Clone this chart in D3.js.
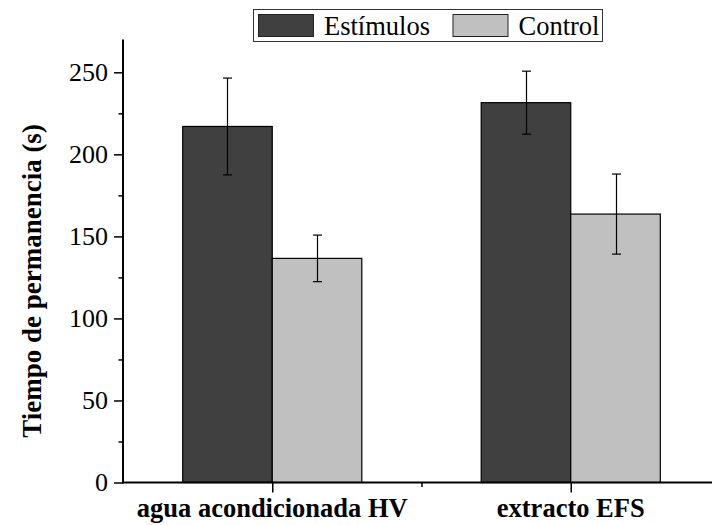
<!DOCTYPE html>
<html>
<head>
<meta charset="utf-8">
<script src="https://cdn.jsdelivr.net/npm/d3@7"></script>
<style>
  html, body { margin: 0; padding: 0; background: #fff; }
  svg { display: block; }
</style>
</head>
<body>
<svg id="chart" width="712" height="525" font-family="Liberation Serif"></svg>
<script>
// Categories and series
const categories = ["agua acondicionada HV", "extracto EFS"];
const seriesNames = ["Estímulos", "Control"];
const estimulos = [217, 231.5];
const estimulosErr = [29.5, 19.2];
const control = [136.6, 163.6];
const controlErr = [14.2, 24.4];
const yTicks = [0, 50, 100, 150, 200, 250];
const yMinorTicks = [25, 75, 125, 175, 225];
const yLabel = "Tiempo de permanencia (s)";

const FONT = "Liberation Serif";

const series = [
  { name: seriesNames[0], values: estimulos, errors: estimulosErr, fill: "#404040", offset: -1 },
  { name: seriesNames[1], values: control, errors: controlErr, fill: "#c0c0c0", offset: 0 }
];

const svg = d3.select("#chart");

const x = d3.scaleLinear().domain([0.5, 2.5]).range([123, 720]);
const y = d3.scaleLinear().domain([0, 270]).range([482.5, 39.5]);
const barW = 0.3;

// Bars
series.forEach(s => {
  const g = svg.append("g");
  g.selectAll("rect")
    .data(s.values)
    .join("rect")
    .attr("x", (d, i) => x(i + 1 + s.offset * barW))
    .attr("width", x(1 + barW) - x(1))
    .attr("y", d => y(d))
    .attr("height", d => y(0) - y(d))
    .attr("fill", s.fill)
    .attr("stroke", "#000")
    .attr("stroke-width", 1.2);
});

// Error bars
series.forEach(s => {
  const g = svg.append("g").attr("stroke", "#000").attr("stroke-width", 1.2);
  s.values.forEach((v, i) => {
    const cx = Math.round(x(i + 1 + (s.offset + 0.5) * barW)) + 0.5;
    const top = y(v + s.errors[i]);
    const bot = y(v - s.errors[i]);
    g.append("line").attr("x1", cx).attr("x2", cx).attr("y1", top).attr("y2", bot);
    g.append("line").attr("x1", cx - 4.5).attr("x2", cx + 4.5).attr("y1", top).attr("y2", top);
    g.append("line").attr("x1", cx - 4.5).attr("x2", cx + 4.5).attr("y1", bot).attr("y2", bot);
  });
});

// Y axis
const yAxis = d3.axisLeft(y).tickValues(yTicks).tickSize(9).tickPadding(6).tickFormat(d3.format("d"));
const yg = svg.append("g").attr("transform", `translate(${x(0.5)},0)`).call(yAxis)
  .attr("font-family", FONT).attr("font-size", 26);
yg.select(".domain").attr("d", `M0,${y(0) + 1}V${y(270)}`).attr("stroke-width", 2);
yg.selectAll(".tick line").attr("stroke-width", 1.5);
yg.selectAll(".tick text").attr("font-family", FONT).attr("font-size", 26).attr("fill", "#000");
svg.append("g").attr("transform", `translate(${x(0.5)},0)`)
  .call(d3.axisLeft(y).tickValues(yMinorTicks).tickSize(4.5).tickFormat(""))
  .call(g => g.select(".domain").remove())
  .selectAll(".tick line").attr("stroke-width", 1.5);

// X axis
const xAxis = d3.axisBottom(x).tickValues([1, 2]).tickSize(10).tickFormat("");
const xg = svg.append("g").attr("transform", `translate(0,${y(0)})`).call(xAxis);
xg.select(".domain").attr("d", `M${x(0.5) - 1},0H${x(2.5)}`).attr("stroke-width", 2);
xg.selectAll(".tick line").attr("stroke-width", 1.5);
svg.append("g").attr("transform", `translate(0,${y(0)})`)
  .call(d3.axisBottom(x).tickValues([1.5]).tickSize(4.5).tickFormat(""))
  .call(g => g.select(".domain").remove())
  .selectAll(".tick line").attr("stroke-width", 1.5);

// Category labels
svg.append("g").selectAll("text")
  .data(categories)
  .join("text")
  .attr("x", (d, i) => x(i + 1))
  .attr("y", 517)
  .attr("text-anchor", "middle")
  .attr("font-family", FONT)
  .attr("font-size", 26.5)
  .attr("font-weight", "bold")
  .attr("fill", "#000")
  .text(d => d);

// Y axis title
svg.append("text")
  .attr("transform", "translate(41,281) rotate(-90)")
  .attr("text-anchor", "middle")
  .attr("font-family", FONT)
  .attr("font-size", 27)
  .attr("font-weight", "bold")
  .attr("fill", "#000")
  .text(yLabel);

// Legend
const legend = svg.append("g");
legend.append("rect")
  .attr("x", 253.5).attr("y", 9.5).attr("width", 349).attr("height", 32)
  .attr("fill", "#fff").attr("stroke", "#333").attr("stroke-width", 1);
const itemX = [258, 452.5];
series.forEach((s, i) => {
  legend.append("rect")
    .attr("x", itemX[i] + 0.5).attr("y", 14.5).attr("width", 55).attr("height", 22)
    .attr("fill", s.fill).attr("stroke", "#222").attr("stroke-width", 1);
  legend.append("text")
    .attr("x", itemX[i] + 66).attr("y", 35)
    .attr("font-family", FONT)
    .attr("font-size", 26.5)
    .attr("fill", "#000")
    .text(s.name);
});
</script>
</body>
</html>
